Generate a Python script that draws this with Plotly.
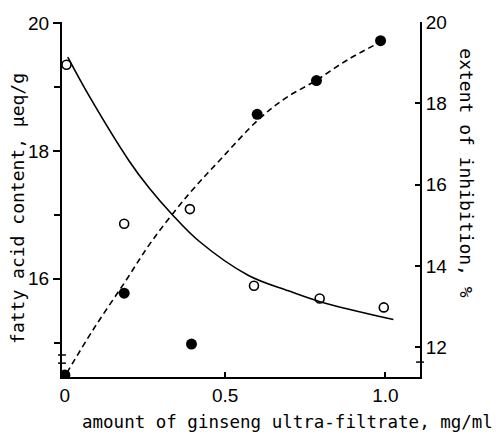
import plotly.graph_objects as go

# ---- data ----
# open circles: fatty acid content (left axis, µeq/g)
open_x = [0.005, 0.185, 0.39, 0.59, 0.795, 0.995]
open_y = [19.35, 16.86, 17.09, 15.89, 15.69, 15.55]
# filled circles: extent of inhibition (right axis, %)
filled_x = [0.0, 0.185, 0.395, 0.60, 0.785, 0.985]
filled_y = [11.32, 13.33, 12.08, 17.73, 18.56, 19.54]
# fitted solid curve (left axis)
fit_open_x = [0.009, 0.077, 0.201, 0.263, 0.334, 0.418, 0.573, 0.697, 0.796, 1.025]
fit_open_y = [19.47, 18.85, 17.84, 17.42, 17.01, 16.59, 16.05, 15.81, 15.64, 15.36]
# fitted dashed curve (right axis)
fit_filled_x = [0.006, 0.087, 0.186, 0.272, 0.387, 0.489, 0.604, 0.687, 0.783, 0.882, 0.985]
fit_filled_y = [11.37, 12.42, 13.59, 14.62, 15.77, 16.65, 17.60, 18.12, 18.56, 19.07, 19.51]

x_ticks = [0, 0.5, 1.0]
x_ticklabels = ["0", "0.5", "1.0"]
left_ticks = [16, 18, 20]
right_ticks = [12, 14, 16, 18, 20]

x_title = "amount of ginseng ultra-filtrate, mg/ml"
left_title = "fatty acid content, μeq/g"
right_title = "extent of inhibition, %"

tick_font = dict(family="Liberation Sans, Arial, sans-serif", size=19, color="black")
label_font = dict(family="DejaVu Sans Mono, monospace", size=18, color="black")
xlabel_font = dict(family="DejaVu Sans Mono, monospace", size=17.5, color="black")

fig = go.Figure()
fig.add_trace(go.Scatter(x=fit_open_x, y=fit_open_y, mode="lines", line=dict(color="black", width=1.6, shape="spline"),
                         yaxis="y", hoverinfo="skip", showlegend=False))
fig.add_trace(go.Scatter(x=fit_filled_x, y=fit_filled_y, mode="lines",
                         line=dict(color="black", width=1.6, dash="6px,4px", shape="spline"),
                         yaxis="y2", hoverinfo="skip", showlegend=False))
fig.add_trace(go.Scatter(x=open_x, y=open_y, mode="markers", yaxis="y",
                         marker=dict(symbol="circle-open", size=9, color="black", line=dict(width=1.6)),
                         showlegend=False))
fig.add_trace(go.Scatter(x=filled_x, y=filled_y, mode="markers", yaxis="y2",
                         marker=dict(symbol="circle", size=11, color="black"), showlegend=False))

fig.update_layout(
    width=499, height=435,
    margin=dict(l=62, r=79, t=20, b=58),
    paper_bgcolor="white", plot_bgcolor="white",
    xaxis=dict(range=[-0.009, 1.108], showgrid=False, zeroline=False, showline=True, linecolor="black",
               linewidth=2, ticks="inside", ticklen=5, tickwidth=1.5, tickcolor="black",
               tickvals=x_ticks, ticktext=x_ticklabels, tickfont=tick_font),
    yaxis=dict(range=[14.46, 20.02], showgrid=False, zeroline=False, showline=True, linecolor="black",
               linewidth=2, ticks="outside", ticklen=7, tickwidth=1.5, tickcolor="black",
               tickvals=left_ticks, tickfont=tick_font,
               minor=dict(tickvals=[15, 17, 19], ticks="outside", ticklen=6, tickwidth=1.5, tickcolor="black")),
    yaxis2=dict(range=[11.27, 20.0], overlaying="y", side="right", showgrid=False, zeroline=False,
                showline=True, linecolor="black", linewidth=2, ticks="inside", ticklen=5, tickwidth=1.5,
                tickcolor="black", tickvals=right_ticks, tickfont=tick_font),
    annotations=[
        dict(text=x_title, xref="paper", yref="paper", x=0.631, y=-0.126, xanchor="center", yanchor="middle",
             showarrow=False, font=xlabel_font),
        dict(text=left_title, xref="paper", yref="paper", x=-0.126, y=0.476, xanchor="center", yanchor="middle",
             textangle=-90, showarrow=False, font=label_font),
        dict(text=right_title, xref="paper", yref="paper", x=1.131, y=0.574, xanchor="center", yanchor="middle",
             textangle=90, showarrow=False, font=label_font),
    ],
    shapes=[
        # axis-break marks
        dict(type="line", xref="paper", yref="paper", x0=-0.011, x1=0.011, y0=0.062, y1=0.062,
             line=dict(color="black", width=1.5)),
        dict(type="line", xref="paper", yref="paper", x0=-0.011, x1=0.011, y0=0.039, y1=0.039,
             line=dict(color="black", width=1.5)),
        dict(type="line", xref="paper", yref="paper", x0=0.989, x1=1.011, y0=0.042, y1=0.042,
             line=dict(color="black", width=1.5)),
    ],
)

fig.write_html("out.html", config={"displayModeBar": False},
               post_script="document.body.style.margin='0';document.body.style.overflow='hidden';")
